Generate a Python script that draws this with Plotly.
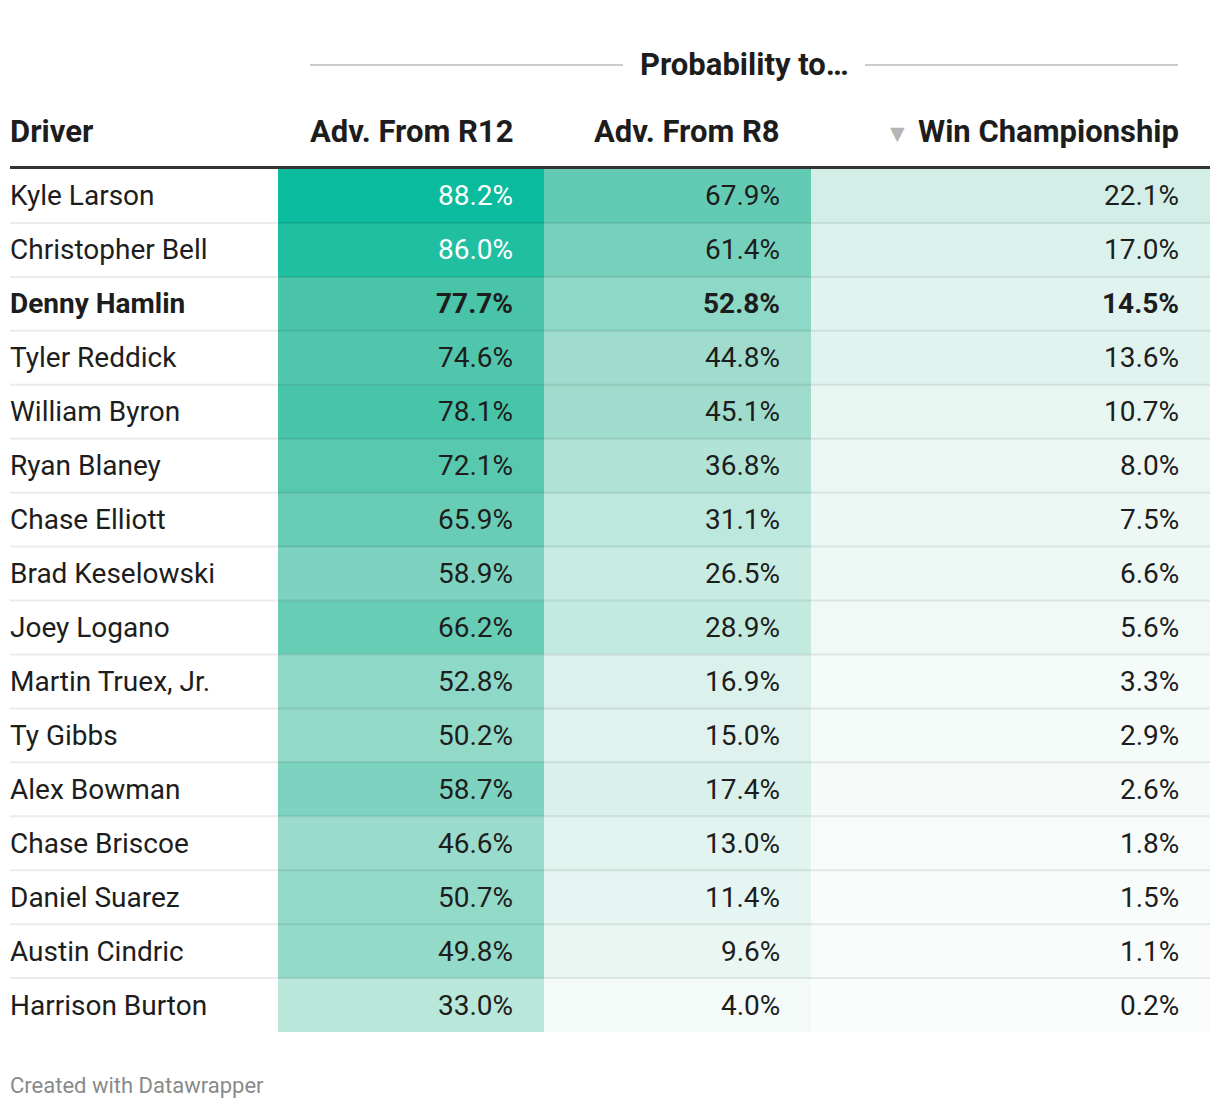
import plotly.graph_objects as go

drivers = ["Kyle Larson", "Christopher Bell", "Denny Hamlin", "Tyler Reddick", "William Byron",
           "Ryan Blaney", "Chase Elliott", "Brad Keselowski", "Joey Logano", "Martin Truex, Jr.",
           "Ty Gibbs", "Alex Bowman", "Chase Briscoe", "Daniel Suarez", "Austin Cindric",
           "Harrison Burton"]
adv_r12 = [88.2, 86.0, 77.7, 74.6, 78.1, 72.1, 65.9, 58.9, 66.2, 52.8, 50.2, 58.7, 46.6, 50.7, 49.8, 33.0]
adv_r8 = [67.9, 61.4, 52.8, 44.8, 45.1, 36.8, 31.1, 26.5, 28.9, 16.9, 15.0, 17.4, 13.0, 11.4, 9.6, 4.0]
win_champ = [22.1, 17.0, 14.5, 13.6, 10.7, 8.0, 7.5, 6.6, 5.6, 3.3, 2.9, 2.6, 1.8, 1.5, 1.1, 0.2]
col_titles = ["Adv. From R12", "Adv. From R8", "Win Championship"]
highlight = "Denny Hamlin"

W, H = 1220, 1108
FONT = "Roboto"
BODY = 28
HEAD = 31

def px(x):
    return x / W

def py(y):
    return 1 - y / H

colorscale = [
    [0.0, "#fbfdfc"], [0.04, "#f3faf8"], [0.10, "#e8f6f2"], [0.17, "#dbf1eb"],
    [0.221, "#d2eee6"], [0.30, "#c0e9de"], [0.33, "#b9e7da"], [0.45, "#9fdccd"],
    [0.528, "#8dd8c6"], [0.614, "#76d1bc"], [0.679, "#63cbb3"], [0.78, "#48c4a9"],
    [0.86, "#20bfa2"], [0.882, "#0bbb9d"], [1.0, "#00b894"],
]

columns = [adv_r12, adv_r8, win_champ]
edges = [278, 544, 811, 1210]
pad_right = 29

fig = go.Figure()
axis_names = ["x", "x2", "x3"]
for i, (vals, title) in enumerate(zip(columns, col_titles)):
    fig.add_trace(go.Heatmap(
        x=[title], y=drivers, z=[[v] for v in vals],
        colorscale=colorscale, zmin=0, zmax=100, showscale=False,
        xaxis=axis_names[i], yaxis="y", hoverinfo="skip", xgap=0, ygap=0,
    ))

layout = dict(
    width=W, height=H, margin=dict(l=0, r=0, t=0, b=0),
    paper_bgcolor="white", plot_bgcolor="white", showlegend=False,
    font=dict(family=FONT, color="#1d1d1d"),
    yaxis=dict(type="category", categoryorder="array", categoryarray=drivers,
               autorange="reversed", domain=[py(1032), py(169)],
               showticklabels=False, showgrid=False, zeroline=False, ticks="", anchor="x"),
)
for i in range(3):
    key = "xaxis" if i == 0 else f"xaxis{i+1}"
    layout[key] = dict(domain=[px(edges[i]), px(edges[i + 1])], range=[-0.5, 0.5],
                       showticklabels=False, showgrid=False, zeroline=False, ticks="",
                       anchor="y", fixedrange=True)
fig.update_layout(**layout)

annotations = []
# driver names
for d in drivers:
    txt = f"<b>{d}</b>" if d == highlight else d
    annotations.append(dict(text=txt, xref="paper", x=px(8), xanchor="left",
                            yref="y", y=d, yanchor="middle", showarrow=False,
                            font=dict(size=BODY, color="#1d1d1d", family=FONT)))
# cell values
for i, vals in enumerate(columns):
    width = edges[i + 1] - edges[i]
    xr = "x domain" if i == 0 else f"x{i+1} domain"
    for d, v in zip(drivers, vals):
        s = f"{v:.1f}%"
        if d == highlight:
            s = f"<b>{s}</b>"
        color = "#ffffff" if v >= 80 else "#1d1d1d"
        annotations.append(dict(text=s, xref=xr, x=(width - pad_right) / width, xanchor="right",
                                yref="y", y=d, yanchor="middle", showarrow=False,
                                font=dict(size=BODY, color=color, family=FONT)))
# headers
annotations.append(dict(text="<b>Driver</b>", xref="paper", x=px(8), xanchor="left",
                        yref="paper", y=py(131), yanchor="middle", showarrow=False,
                        font=dict(size=HEAD, color="#1d1d1d", family=FONT)))
for i, title in enumerate(col_titles):
    annotations.append(dict(text=f"<b>{title}</b>", xref="paper", x=px(edges[i + 1] - pad_right),
                            xanchor="right", yref="paper", y=py(131), yanchor="middle",
                            showarrow=False, font=dict(size=HEAD, color="#1d1d1d", family=FONT)))
annotations.append(dict(text="▼", xref="paper", x=px(898), xanchor="center",
                        yref="paper", y=py(133), yanchor="middle", showarrow=False,
                        font=dict(size=19, color="#b5b5b5", family="DejaVu Sans")))
annotations.append(dict(text="<b>Probability to…</b>", xref="paper", x=px(744), xanchor="center",
                        yref="paper", y=py(64), yanchor="middle", showarrow=False,
                        font=dict(size=HEAD, color="#1d1d1d", family=FONT)))
annotations.append(dict(text="Created with Datawrapper", xref="paper", x=px(8), xanchor="left",
                        yref="paper", y=py(1085), yanchor="middle", showarrow=False,
                        font=dict(size=22, color="#8a8a8a", family=FONT)))

shapes = []
# spanner lines
for x0, x1 in [(310, 623), (865, 1178)]:
    shapes.append(dict(type="line", xref="paper", yref="paper", x0=px(x0), x1=px(x1),
                       y0=py(65), y1=py(65), line=dict(color="#cccccc", width=2)))
# row separators
for k in range(len(drivers) - 1):
    shapes.append(dict(type="line", xref="paper", yref="y", x0=px(10), x1=px(1210),
                       y0=k + 0.5, y1=k + 0.5, line=dict(color="rgba(0,0,0,0.08)", width=2),
                       layer="above"))
# header rule
shapes.append(dict(type="line", xref="paper", yref="paper", x0=px(10), x1=px(1210),
                   y0=py(167.5), y1=py(167.5), line=dict(color="#333333", width=3)))

fig.update_layout(annotations=annotations, shapes=shapes)
fig.write_html("out.html", config={"displayModeBar": False},
               post_script="document.body.style.margin='0';")
